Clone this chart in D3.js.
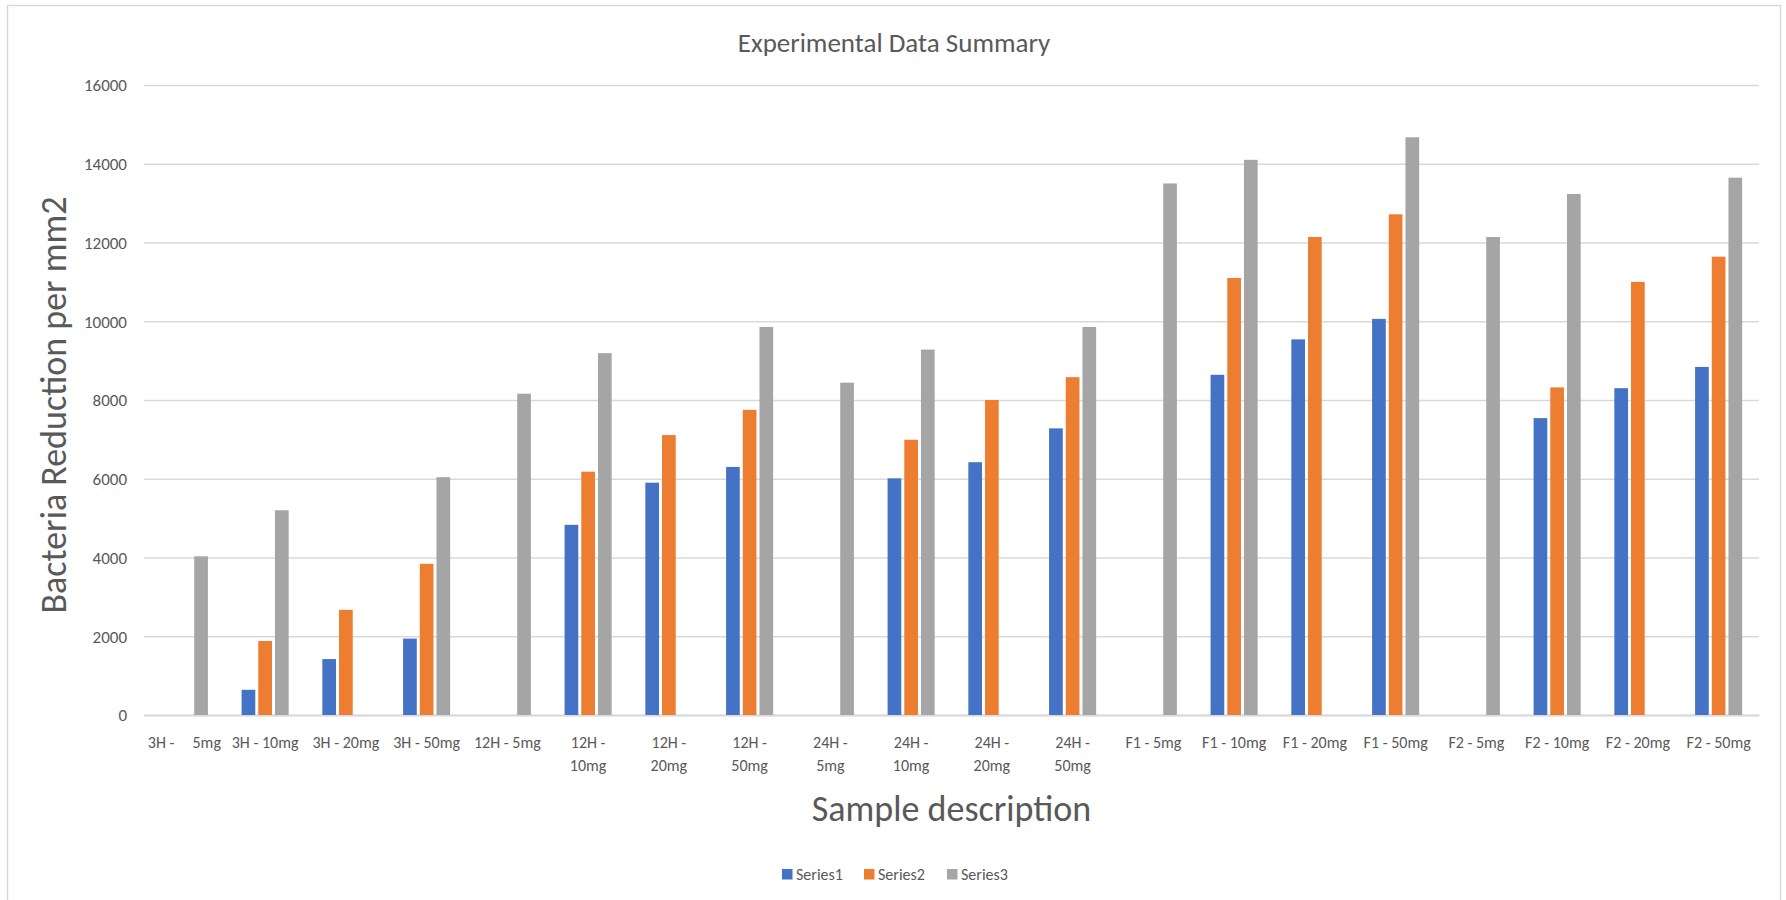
<!DOCTYPE html>
<html>
<head>
<meta charset="utf-8">
<script src="https://cdn.jsdelivr.net/npm/d3@7"></script>
<style>
  body { margin: 0; background: #fff; }
  svg text { font-family: Carlito, Calibri, Lato, sans-serif; fill: #595959; }
</style>
</head>
<body>
<svg id="chart" width="1786" height="900"></svg>
<script>
// category labels (already split the way the picture wraps them)
var categories = ["3H - 5mg", "3H - 10mg", "3H - 20mg", "3H - 50mg",
    "12H - 5mg", "12H - 10mg", "12H - 20mg", "12H - 50mg",
    "24H - 5mg", "24H - 10mg", "24H - 20mg", "24H - 50mg",
    "F1 - 5mg", "F1 - 10mg", "F1 - 20mg", "F1 - 50mg",
    "F2 - 5mg", "F2 - 10mg", "F2 - 20mg", "F2 - 50mg"];
var tickLines = [["3H -\u00a0\u00a0\u00a0\u00a0 5mg"], ["3H - 10mg"], ["3H - 20mg"], ["3H - 50mg"],
    ["12H - 5mg"], ["12H -", "10mg"], ["12H -", "20mg"], ["12H -", "50mg"],
    ["24H -", "5mg"], ["24H -", "10mg"], ["24H -", "20mg"], ["24H -", "50mg"],
    ["F1 - 5mg"], ["F1 - 10mg"], ["F1 - 20mg"], ["F1 - 50mg"],
    ["F2 - 5mg"], ["F2 - 10mg"], ["F2 - 20mg"], ["F2 - 50mg"]];
var seriesNames = ["Series1", "Series2", "Series3"];
var series1 = [0, 640, 1420, 1940, 0, 4830, 5900, 6300, 0, 6010, 6420, 7280,
    0, 8640, 9540, 10060, 0, 7540, 8300, 8840];
var series2 = [0, 1880, 2670, 3840, 0, 6180, 7110, 7750, 0, 6990, 8000, 8580,
    0, 11100, 12140, 12716, 0, 8320, 11000, 11640];
var series3 = [4030, 5200, 0, 6040, 8160, 9190, 0, 9855, 8440, 9280, 0, 9855,
    13500, 14100, 0, 14672, 12140, 13232, 0, 13646];
var yTicks = [0, 2000, 4000, 6000, 8000, 10000, 12000, 14000, 16000];
var colors = ["#4472C4", "#ED7D31", "#A5A5A5"];

var svg = d3.select("#chart");
var plotLeft = 144, plotRight = 1759, plotTop = 85, plotBottom = 715;

// chart frame
svg.append("rect")
    .attr("x", 7.5).attr("y", 5.5)
    .attr("width", 1773).attr("height", 910)
    .attr("fill", "none")
    .attr("stroke", "#D9D9D9")
    .attr("stroke-width", 1.5);

var x0 = d3.scaleBand().domain(categories).range([plotLeft, plotRight]).padding(0);
var x1 = d3.scaleBand().domain(seriesNames)
    .range([x0.bandwidth() * 0.19, x0.bandwidth() * 0.81]);
var y = d3.scaleLinear().domain([0, 16000]).range([plotBottom, plotTop]);

// gridlines + y labels
var yAxis = svg.append("g")
    .attr("transform", "translate(" + plotLeft + ",0)")
    .call(d3.axisLeft(y).tickValues(yTicks).tickFormat(d3.format("d"))
        .tickSize(-(plotRight - plotLeft)).tickPadding(17));
yAxis.select(".domain").remove();
yAxis.selectAll("line").attr("stroke", "#D9D9D9").attr("stroke-width", 1.5);
yAxis.selectAll("text").style("font-size", "17px").attr("dy", "0.35em");

// x axis line + labels
var xAxis = svg.append("g")
    .attr("transform", "translate(0," + plotBottom + ")")
    .call(d3.axisBottom(x0).tickSize(0).tickFormat(""));
xAxis.select(".domain").attr("stroke", "#D9D9D9").attr("stroke-width", 2);
xAxis.selectAll(".tick").append("text")
    .style("font-size", "16px")
    .attr("text-anchor", "middle")
    .each(function (d, i) {
        var t = d3.select(this);
        tickLines[i].forEach(function (line, j) {
            t.append("tspan").attr("x", 0).attr("y", 33 + j * 23).text(line);
        });
    });

// bars
var rows = categories.map(function (c, i) {
    return { cat: c, vals: [series1[i], series2[i], series3[i]] };
});
var groups = svg.append("g").selectAll("g")
    .data(rows)
    .enter().append("g")
    .attr("transform", function (d) { return "translate(" + x0(d.cat) + ",0)"; });
groups.selectAll("rect")
    .data(function (d) {
        return d.vals.map(function (v, k) { return { key: seriesNames[k], value: v, k: k }; })
            .filter(function (e) { return e.value > 0; });
    })
    .enter().append("rect")
    .attr("x", function (d) { return x1(d.key) + 1.5; })
    .attr("width", x1.bandwidth() - 3)
    .attr("y", function (d) { return y(d.value); })
    .attr("height", function (d) { return y(0) - y(d.value); })
    .attr("fill", function (d) { return colors[d.k]; });

// title
svg.append("text")
    .attr("x", 894).attr("y", 52)
    .attr("text-anchor", "middle")
    .style("font-size", "27px")
    .text("Experimental Data Summary");

// axis titles
svg.append("text")
    .attr("transform", "translate(66,405) rotate(-90)")
    .attr("text-anchor", "middle")
    .style("font-size", "36px")
    .text("Bacteria Reduction per mm2");
svg.append("text")
    .attr("x", (plotLeft + plotRight) / 2).attr("y", 821)
    .attr("text-anchor", "middle")
    .style("font-size", "36px")
    .text("Sample description");

// legend
var legendX = [782, 864, 947];
var legend = svg.append("g").selectAll("g")
    .data(seriesNames)
    .enter().append("g")
    .attr("transform", function (d, i) { return "translate(" + legendX[i] + ",869)"; });
legend.append("rect")
    .attr("width", 10.5).attr("height", 10.5)
    .attr("fill", function (d, i) { return colors[i]; });
legend.append("text")
    .attr("x", 14).attr("y", 10.5)
    .style("font-size", "16px")
    .text(function (d) { return d; });
</script>
</body>
</html>
